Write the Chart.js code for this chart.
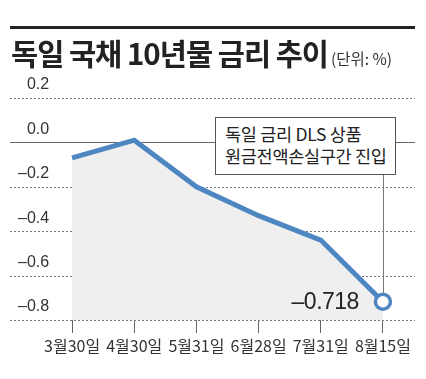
<!DOCTYPE html>
<html><head><meta charset="utf-8">
<script src="https://cdn.jsdelivr.net/npm/chart.js@4/dist/chart.umd.min.js"></script>
<style>
html,body{margin:0;padding:0;background:#fff;}
#wrap{position:relative;width:426px;height:379px;overflow:hidden;}
#c{position:absolute;left:0;top:0;}
#bar{position:absolute;left:10px;top:26px;width:405px;height:3px;background:#222;}
#title{position:absolute;left:11px;top:32px;font-family:"Noto Sans CJK KR";font-weight:700;font-size:29.5px;letter-spacing:-1px;color:#222;white-space:nowrap;line-height:40px;}
#title span{font-weight:400;font-size:15.5px;letter-spacing:0;color:#333;font-family:"Liberation Sans Narrow","Noto Sans CJK KR";margin-left:3px;}
#box{position:absolute;left:215px;top:117px;width:181px;height:58px;border:1px solid #555;background:#fff;font-family:"Noto Sans CJK KR";font-size:17.5px;line-height:22px;color:#222;padding:5px 0 0 9px;box-sizing:border-box;letter-spacing:-0.3px;white-space:nowrap;}
#val{position:absolute;font-family:"Liberation Sans Narrow","Liberation Sans";font-size:23px;color:#222;letter-spacing:-0.5px;white-space:nowrap;line-height:24px;transform:translateX(-100%);}
</style></head><body>
<div id="wrap">
<canvas id="c" width="426" height="379"></canvas>
<div id="bar"></div>
<div id="title">독일 국채 10년물 금리 추이<span>(단위: %)</span></div>
<div id="box">독일 금리 DLS 상품<br>원금전액손실구간 진입</div>
<div id="val"></div>
</div>
<script>
const categories = ['3월30일','4월30일','5월31일','6월28일','7월31일','8월15일'];
const rates = [-0.07, 0.01, -0.20, -0.33, -0.44, -0.718];
const yTicks = [0.2, 0.0, -0.2, -0.4, -0.6, -0.8];
const lastLabel = '–0.718';

// en dash and figure space share the digit width, so left-aligned labels line up on the right
const fmt = v => (v < 0 ? '–' : '\u2007') + Math.abs(v).toFixed(1);

const gridPlugin = {
  id: 'gridPlugin',
  beforeDatasetsDraw(chart) {
    const ctx = chart.ctx, y = chart.scales.y;
    ctx.save();
    yTicks.forEach(v => {
      const py = Math.round(y.getPixelForValue(v)) + 0.5;
      ctx.beginPath();
      ctx.lineWidth = 1;
      if (v === 0) { ctx.setLineDash([]); ctx.strokeStyle = '#666'; }
      else { ctx.setLineDash([2, 2]); ctx.strokeStyle = '#777'; }
      ctx.moveTo(10, py); ctx.lineTo(415, py); ctx.stroke();
    });
    ctx.restore();
  },
  afterDatasetsDraw(chart) {
    const ctx = chart.ctx, x = chart.scales.x, y = chart.scales.y;
    const px = Math.round(x.getPixelForValue(categories.length - 1)) + 0.5;
    const py = y.getPixelForValue(rates[rates.length - 1]);
    ctx.save();
    ctx.strokeStyle = '#777'; ctx.lineWidth = 1;
    ctx.beginPath(); ctx.moveTo(px, 174); ctx.lineTo(px, py - 9); ctx.stroke();
    ctx.restore();
  },
  afterRender(chart) {
    const x = chart.scales.x, y = chart.scales.y;
    const px = x.getPixelForValue(categories.length - 1);
    const py = y.getPixelForValue(rates[rates.length - 1]);
    const el = document.getElementById('val');
    el.textContent = lastLabel;
    el.style.left = (px - 24) + 'px';
    el.style.top = (py - 13) + 'px';
  }
};

new Chart(document.getElementById('c'), {
  type: 'line',
  data: {
    labels: categories,
    datasets: [{
      data: rates,
      borderColor: '#4d86c0',
      borderWidth: 5,
      backgroundColor: '#efefef',
      fill: 'start',
      tension: 0,
      pointRadius: rates.map((v, i) => i === rates.length - 1 ? 7.5 : 0),
      pointBorderWidth: 3.5,
      pointBackgroundColor: '#fff',
      pointBorderColor: '#4d86c0',
      borderJoinStyle: 'miter'
    }]
  },
  options: {
    responsive: false,
    animation: false,
    events: [],
    layout: { padding: { left: 10, right: 12, top: 98, bottom: 19 } },
    plugins: { legend: { display: false }, tooltip: { enabled: false } },
    scales: {
      x: {
        offset: true,
        grid: { offset: false, drawOnChartArea: false, drawTicks: true, tickLength: 13, tickColor: '#666', tickWidth: 1 },
        border: { display: false },
        ticks: { padding: 3, color: '#333', font: { family: '"Liberation Sans Narrow","Noto Sans CJK KR"', size: 16 }, maxRotation: 0, autoSkip: false },
        afterFit(s) { s.height = 40; }
      },
      y: {
        min: -0.8, max: 0.2,
        afterBuildTicks(s) { s.ticks = yTicks.map(v => ({ value: v })); },
        grid: { display: false, drawTicks: false },
        border: { display: false },
        ticks: {
          mirror: true,
          padding: -23,
          labelOffset: -13,
          color: '#333',
          font: { family: '"Liberation Sans Narrow","Liberation Sans"', size: 16 },
          callback: v => fmt(v)
        },
        afterFit(s) { s.width = 31; }
      }
    }
  },
  plugins: [gridPlugin]
});
</script>
</body></html>
